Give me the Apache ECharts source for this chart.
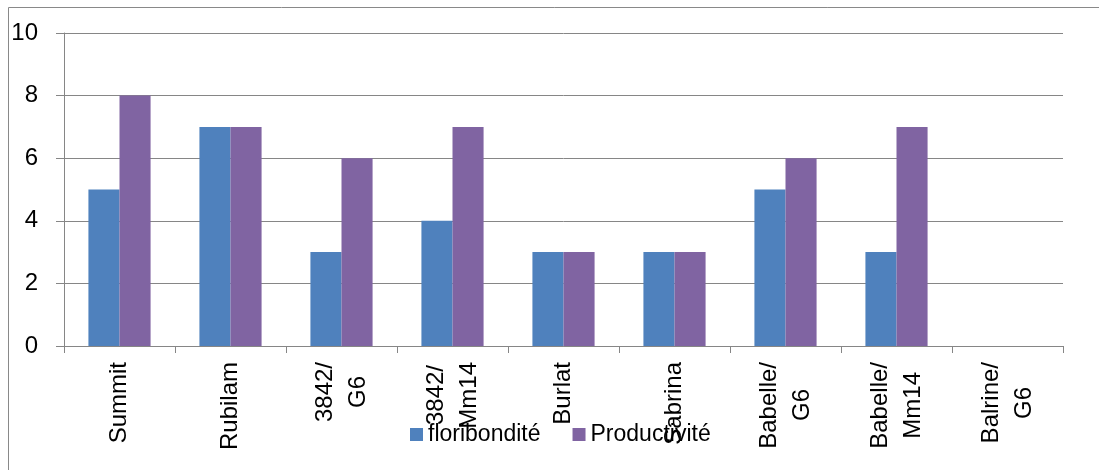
<!DOCTYPE html>
<html>
<head>
<meta charset="utf-8">
<script src="https://cdn.jsdelivr.net/npm/echarts@6/dist/echarts.min.js"></script>
<style>
  html, body { margin: 0; padding: 0; background: #fff; }
  #chart { width: 1099px; height: 470px; }
</style>
</head>
<body>
<div id="chart"></div>
<script>
const categories = ["Summit", "Rubilam", "3842/\nG6", "3842/\nMm14", "Burlat", "Sabrina", "Babelle/\nG6", "Babelle/\nMm14", "Balrine/\nG6"];
const floribondite = [5, 7, 3, 4, 3, 3, 5, 3, 0];
const productivite = [8, 7, 6, 7, 3, 3, 6, 7, 0];
const yTicks = [0, 2, 4, 6, 8, 10];

const font = "Liberation Sans";
const labelSize = 24;

// wrapped labels: shorter line centred under the longest one (right padding)
const ctx = document.createElement("canvas").getContext("2d");
ctx.font = labelSize + "px '" + font + "'";
const rich = {};
categories.forEach(function (c, i) {
  const lines = c.split("\n");
  const widths = lines.map(function (s) { return ctx.measureText(s).width; });
  const w = Math.max.apply(null, widths);
  lines.forEach(function (s, j) {
    rich["r" + i + "x" + j] = {
      padding: [0, Math.round((w - widths[j]) / 2), 0, 0],
      fontFamily: font, fontSize: labelSize, color: "#000", lineHeight: 33
    };
  });
});

const chart = echarts.init(document.getElementById("chart"));

chart.setOption({
  animation: false,
  textStyle: { fontFamily: font },
  graphic: [
    {
      type: "rect",
      shape: { x: 8.5, y: 7.5, width: 1200, height: 600 },
      style: { fill: null, stroke: "#898989", lineWidth: 1 },
      silent: true
    }
  ],
  grid: { left: 64, right: 36, top: 33, bottom: 124, containLabel: false },
  legend: {
    data: ["floribondité", "Productivité"],
    left: 410,
    top: 423,
    padding: 0,
    itemWidth: 13,
    itemHeight: 13,
    itemGap: 32,
    icon: "rect",
    textStyle: { fontFamily: font, fontSize: 23, color: "#000" }
  },
  xAxis: {
    type: "category",
    data: categories,
    axisLine: { lineStyle: { color: "#868686", width: 1 } },
    axisTick: { show: true, length: 7, alignWithLabel: false, lineStyle: { color: "#868686" } },
    axisLabel: {
      rotate: 90,
      margin: 16,
      interval: 0,
      color: "#000",
      fontFamily: font,
      fontSize: labelSize,
      lineHeight: 33,
      formatter: function (v) {
        const i = categories.indexOf(v);
        return v.split("\n").map(function (s, j) { return "{r" + i + "x" + j + "|" + s + "}"; }).join("\n");
      },
      rich: rich
    }
  },
  yAxis: {
    type: "value",
    min: yTicks[0],
    max: yTicks[yTicks.length - 1],
    interval: 2,
    axisLine: { show: true, lineStyle: { color: "#868686", width: 1 } },
    axisTick: { show: true, length: 8, lineStyle: { color: "#868686" } },
    axisLabel: { margin: 26, color: "#000", fontFamily: font, fontSize: 24 },
    splitLine: { lineStyle: { color: "#868686", width: 1 } }
  },
  series: [
    {
      name: "floribondité",
      type: "bar",
      data: floribondite,
      barGap: "0%",
      barCategoryGap: "44%",
      itemStyle: { color: "#4F81BD" }
    },
    {
      name: "Productivité",
      type: "bar",
      data: productivite,
      barGap: "0%",
      barCategoryGap: "44%",
      itemStyle: { color: "#8064A2" }
    }
  ]
});
</script>
</body>
</html>
